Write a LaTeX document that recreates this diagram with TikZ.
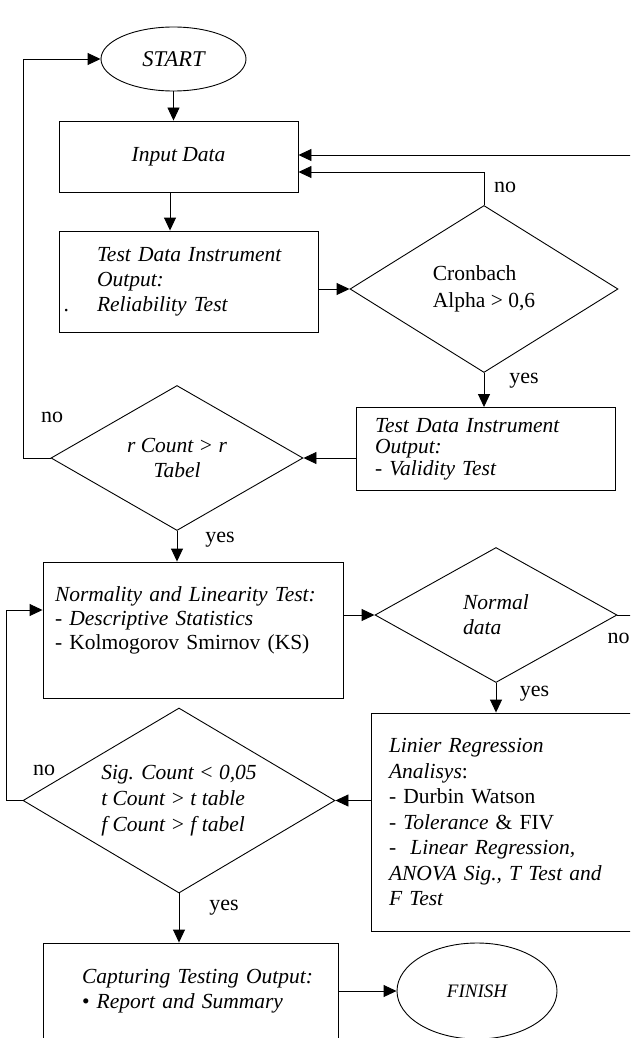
\documentclass[tikz,border=0pt]{standalone}
\usepackage{fontspec}
\setmainfont{Liberation Serif}
\usetikzlibrary{shapes.geometric,arrows.meta}
\tikzset{
	procbox/.style={draw, rectangle, inner ysep=0pt, align=left},
	decision/.style={draw, diamond, inner sep=0pt},
	terminal/.style={draw, ellipse, inner sep=0pt},
	arr/.style={-{Triangle[length=13pt,width=12pt]}},
	answer/.style={font=\fontsize{22}{24}\selectfont}
}
\begin{document}
\begin{tikzpicture}[x=1pt, y=-1pt, line width=0.9pt, font=\fontsize{21.5}{24.5}\selectfont]
				\useasboundingbox (0,0) rectangle (630,1038);
				\clip (0,0) rectangle (630,1038);
				\coordinate (E1) at (645,155);
				\coordinate (E2) at (645,615);
				\node[terminal, minimum width=145pt, minimum height=64pt, font=\fontsize{22.5}{24}\selectfont\itshape] (start) at (173.5,59) {START};
				\node[procbox, minimum width=239pt, minimum height=71pt, font=\fontsize{21.5}{24.5}\selectfont\itshape] (input) at (178.5,156.5) {Input Data};
				\node[procbox, minimum width=259pt, minimum height=101pt, inner xsep=38pt, text width=183pt, font=\fontsize{21.5}{25}\selectfont\itshape] (test) at (188.5,281.5) {\mbox{Test Data Instrument}\\ Output:\\ \leavevmode\llap{\upshape.\hspace{28pt}}Reliability Test};
				\node[decision, aspect=1.6, minimum width=268pt, minimum height=167pt, align=left, font=\fontsize{21.5}{27}\selectfont] (cron) at (484,289) {Cronbach\\ Alpha > 0,6};
				\node[procbox, minimum width=259pt, minimum height=83pt, inner xsep=19pt, text width=221pt, font=\fontsize{21.5}{21.5}\selectfont] (valid) at (485.5,449) {\textit{Test Data Instrument}\\ \textit{Output:}\\ - \textit{Validity Test}};
				\node[decision, aspect=1.74, minimum width=252pt, minimum height=145pt, align=center, font=\fontsize{21.5}{25}\selectfont\itshape] (rcount) at (177,458) {r Count > r\\ Tabel};
				\node[procbox, minimum width=300pt, minimum height=136pt, inner xsep=12pt, text width=276pt, font=\fontsize{21.5}{24}\selectfont] (norm) at (193,630) {\textit{Normality and Linearity Test:}\\ - \textit{Descriptive Statistics}\\ - Kolmogorov Smirnov (KS)\\ \mbox{}};
				\node[decision, aspect=1.8, minimum width=242pt, minimum height=135pt, align=left, font=\fontsize{21.5}{25}\selectfont\itshape] (normal) at (496,615) {Normal\\ data};
				\node[procbox, minimum width=289pt, minimum height=218pt, inner xsep=18pt, text width=253pt, font=\fontsize{21.5}{25.5}\selectfont] (lin) at (515.5,822) {\textit{Linier Regression}\\ \textit{Analisys}:\\ - Durbin Watson\\ - \textit{Tolerance} \& FIV\\ -~ \textit{Linear Regression,}\\ \textit{ANOVA Sig., T Test and}\\ \textit{F Test}};
				\node[decision, aspect=1.69, minimum width=312pt, minimum height=185pt, align=left, font=\fontsize{21.5}{26}\selectfont\itshape] (sig) at (179,800.5) {Sig. Count < 0,05\\ t Count > t table\\ f Count > f tabel};
				\node[procbox, minimum width=295pt, minimum height=97pt, inner xsep=39pt, text width=217pt, font=\fontsize{21.5}{25}\selectfont] (cap) at (190.5,991.5) {\mbox{\textit{Capturing Testing Output:}}\\ \textbullet\ \textit{Report and Summary}};
				\node[terminal, minimum width=160pt, minimum height=96pt, font=\fontsize{19}{22}\selectfont\itshape] (finish) at (477,991) {FINISH};
				\draw[arr] (start.south) -- (start.south |- input.north);
				\draw[arr] ([xshift=-8.5pt]input.south) -- ([xshift=-18.5pt]test.north);
				\draw[arr] (test.east |- cron.west) -- (cron.west);
				\draw[arr] (cron.north) |- ([yshift=-15.5pt]input.east);
				\draw[arr] (E1) -- (input.east |- E1);
				\draw[arr] (cron.south) -- (cron.south |- valid.north);
				\draw[arr] (valid.west |- rcount.east) -- (rcount.east);
				\draw[arr] (rcount.west) -- ++(-27,0) |- (start.west);
				\draw[arr] (rcount.south) -- (rcount.south |- norm.north);
				\draw[arr] (norm.east |- normal.west) -- (normal.west);
				\draw (normal.east) -- (E2);
				\draw[arr] (normal.south) -- (normal.south |- lin.north);
				\draw[arr] (lin.west |- sig.east) -- (sig.east);
				\draw[arr] (sig.west) -- ++(-16,0) |- ([yshift=20pt]norm.west);
				\draw[arr] (sig.south) -- (sig.south |- cap.north);
				\draw[arr] (cap.east |- finish.west) -- (finish.west);
				\node[answer] (no1) at (505,187) {no};
				\node[answer] (yes1) at (524,381) {yes};
				\node[answer] (no2) at (52,417) {no};
				\node[answer] (yes2) at (220,540) {yes};
				\node[answer] (no3) at (618.5,638) {no};
				\node[answer] (yes3) at (534.5,694) {yes};
				\node[answer] (no4) at (44,770) {no};
				\node[answer] (yes4) at (224,908) {yes};
			\end{tikzpicture}
\end{document}
